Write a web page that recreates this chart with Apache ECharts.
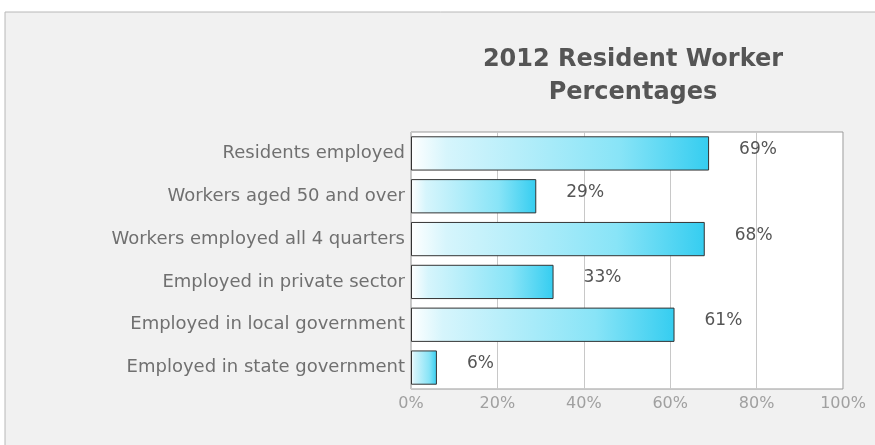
<!DOCTYPE html>
<html>
<head>
<meta charset="utf-8">
<script src="https://cdn.jsdelivr.net/npm/echarts@6/dist/echarts.min.js"></script>
<style>
  html, body { margin: 0; padding: 0; background: #ffffff; }
  #chart { width: 875px; height: 445px; }
</style>
</head>
<body>
<div id="chart"></div>
<script>
// Categories, top to bottom
const categories = [
  'Residents employed',
  'Workers aged 50 and over',
  'Workers employed all 4 quarters',
  'Employed in private sector',
  'Employed in local government',
  'Employed in state government'
];
// Percent of resident workers
const values = [69, 29, 68, 33, 61, 6];
// Axis tick values
const ticks = [0, 20, 40, 60, 80, 100];

const chart = echarts.init(document.getElementById('chart'), null, { renderer: 'canvas' });

const barFill = new echarts.graphic.LinearGradient(0, 0, 1, 0, [
  { offset: 0, color: '#ffffff' },
  { offset: 0.12, color: '#d6f5fc' },
  { offset: 0.7, color: '#88e4f7' },
  { offset: 1, color: '#35cdf0' }
]);

chart.setOption({
  animation: false,
  backgroundColor: '#ffffff',
  graphic: [{
    type: 'rect',
    z: -10,
    shape: { x: 5, y: 12, width: 875, height: 440 },
    style: { fill: '#f1f1f1', stroke: '#b8b8b8', lineWidth: 1 }
  }],
  title: {
    text: '2012 Resident Worker\nPercentages',
    left: 628,
    top: 38,
    textAlign: 'center',
    textStyle: {
      fontFamily: 'DejaVu Sans',
      fontWeight: 'bold',
      fontSize: 24,
      color: '#555555',
      lineHeight: 33
    }
  },
  grid: {
    left: 411, right: 32, top: 132, bottom: 56,
    show: true,
    backgroundColor: '#ffffff',
    borderColor: '#999999',
    borderWidth: 1
  },
  xAxis: {
    type: 'value',
    min: 0, max: 100, interval: 20,
    axisLine: { show: false },
    axisTick: { show: false },
    splitLine: { show: true, lineStyle: { color: '#c8c8c8', width: 1 } },
    axisLabel: {
      formatter: v => ticks.includes(v) ? v + '%' : '',
      fontFamily: 'DejaVu Sans',
      fontSize: 16,
      color: '#a0a0a0',
      margin: 7
    }
  },
  yAxis: {
    type: 'category',
    inverse: true,
    data: categories,
    axisLine: { show: false },
    axisTick: { show: false },
    axisLabel: {
      fontFamily: 'DejaVu Sans',
      fontSize: 18,
      color: '#707070',
      margin: 6
    }
  },
  series: [{
    type: 'bar',
    data: values,
    barWidth: '80%',
    itemStyle: { color: barFill, borderColor: '#333333', borderWidth: 1 },
    label: {
      show: true,
      position: 'right',
      distance: 30,
      offset: [0, -4],
      formatter: '{c}%',
      fontFamily: 'DejaVu Sans',
      fontSize: 17,
      color: '#555555'
    }
  }]
});
</script>
</body>
</html>
